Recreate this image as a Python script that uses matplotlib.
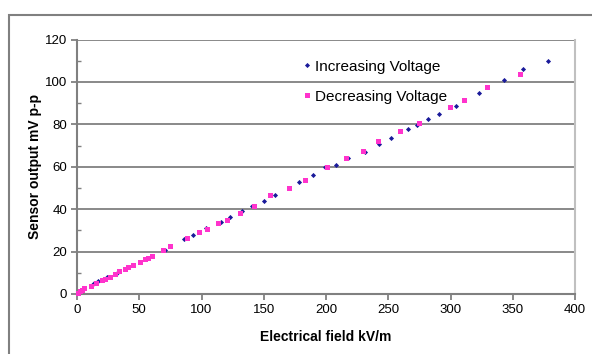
import numpy as np
import matplotlib
matplotlib.use('Agg')
from matplotlib import pyplot as plt
from matplotlib.patches import Rectangle

# readings (kV/m, mV p-p)
inc_x = [11.8, 14, 17, 23.8, 31.9, 34, 41, 70.7, 86, 93.4, 104, 115.4, 122.9,
         132.3, 140.3, 150.2, 159, 178.6, 189.5, 199.2, 207.8, 217.4, 231.3,
         242.8, 252.2, 265.6, 273.3, 282.2, 291, 304.2, 323.2, 343, 358.5, 378]
inc_y = [4.2, 5, 6.3, 7.9, 9.7, 11, 12.6, 20.7, 25.9, 27.8, 31.3, 33.8, 36.5,
         39.3, 41.7, 43.9, 46.7, 52.7, 56, 60, 61, 64.3, 67, 70.8, 73.4, 77.7,
         79.7, 82.7, 85, 88.7, 94.8, 101.1, 106.3, 109.9]

dec_x = [0.5, 2.4, 4.2, 6, 11, 15.5, 19.8, 22.5, 26.5, 30.5, 34, 38.6, 40.7,
         45.2, 50.6, 54.6, 57.3, 60, 68.8, 74.7, 88.1, 97.7, 104.2, 113.5, 120.2,
         130.9, 142.2, 155, 170, 183.1, 200.5, 215.8, 229.5, 241.5, 259.4, 274.7,
         299.6, 310.6, 329.6, 356.1]
dec_y = [0.6, 1.4, 2, 2.6, 3.8, 5, 6.6, 7.1, 8.2, 9.3, 10.7, 11.6, 12.6, 13.8,
         15.2, 16.3, 17.1, 18, 20.7, 22.6, 26.3, 29.2, 30.5, 33.6, 35, 38.4,
         41.5, 46.7, 50, 53.6, 60, 64.3, 67.5, 72.2, 76.7, 80.7, 88.2, 91.5,
         97.5, 103.9]

plt.rcParams['font.family'] = ['Liberation Sans', 'DejaVu Sans']

fig = plt.figure(figsize=(5.92, 3.54), dpi=100)
# chart area border (runs off right/bottom edge)
fig.patches.append(Rectangle((9/592, -0.1), 1.2, 1 - 15/354 + 0.1,
                             transform=fig.transFigure, fill=False,
                             edgecolor='#808080', linewidth=1.5))

ax = fig.add_axes([77/592, 60/354, 498/592, 254.5/354])
ax.plot(inc_x, inc_y, 'D', color='#1a1a9a', markersize=2.6, markeredgewidth=0,
        label='Increasing Voltage', clip_on=False, zorder=3)
ax.plot(dec_x, dec_y, 's', color='#ff33cc', markersize=3.6, markeredgewidth=0,
        label='Decreasing Voltage', clip_on=False, zorder=3)

ax.set_xlim(0, 400)
ax.set_ylim(0, 120)
ax.set_xticks(np.arange(0, 401, 50))
ax.set_yticks(np.arange(0, 121, 20))
ax.set_yticks(np.arange(10, 120, 20), minor=True)
ax.yaxis.grid(True, color='#808080', linewidth=1.3)
ax.set_axisbelow(True)

for s in ['left', 'bottom']:
    ax.spines[s].set_color('#808080')
    ax.spines[s].set_linewidth(1.5)
ax.spines['top'].set_visible(False)
ax.spines['right'].set_color('#c0c0c0')
ax.spines['right'].set_linewidth(1.5)

ax.tick_params(axis='both', which='major', direction='out', length=4,
               width=1.3, color='#808080', labelsize=9.5, pad=3)
ax.tick_params(axis='y', which='minor', direction='in', length=3,
               width=1.0, color='#808080')

ax.set_xlabel('Electrical field kV/m', fontsize=10, fontweight='bold', labelpad=10)
ax.set_ylabel('Sensor output mV p-p', fontsize=10, fontweight='bold', labelpad=2)

ax.legend(loc='upper left', bbox_to_anchor=(0.428, 0.975), frameon=False,
          fontsize=11, handlelength=0.4, handletextpad=0.33, labelspacing=1.05,
          markerscale=1.0)

fig.savefig('out.png', dpi=100)
